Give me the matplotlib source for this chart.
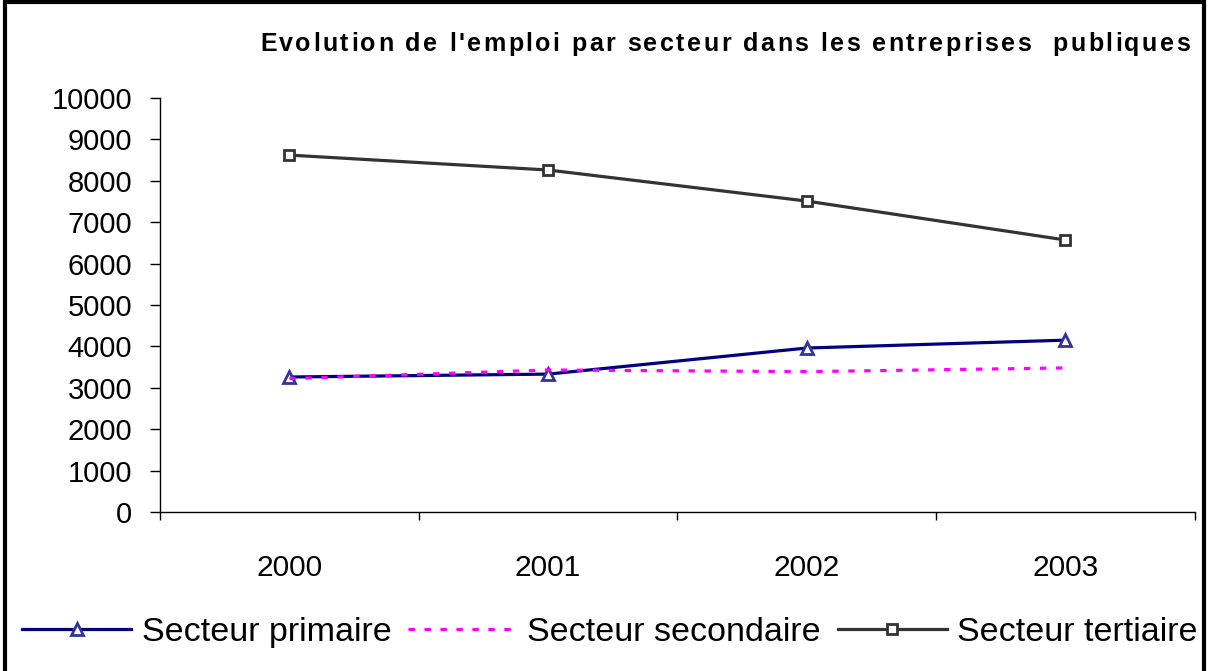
import matplotlib
matplotlib.use("Agg")
import matplotlib.pyplot as plt
from matplotlib.patches import Rectangle
from matplotlib.ticker import FixedLocator
from matplotlib.font_manager import FontProperties

years = ["2000", "2001", "2002", "2003"]
primaire = [3260, 3330, 3960, 4150]
secondaire = [3220, 3430, 3390, 3480]
tertiaire = [8620, 8260, 7510, 6570]
yticks = [0, 1000, 2000, 3000, 4000, 5000, 6000, 7000, 8000, 9000, 10000]
title = "Evolution de l'emploi par secteur dans les entreprises  publiques"

plt.rcParams['font.family'] = ['Liberation Sans', 'DejaVu Sans']

W, H = 1208, 671
fig = plt.figure(figsize=(W / 100, H / 100), dpi=100)
ax = fig.add_axes([0.1325, 0.237, 0.8565, 0.617])

x = list(range(len(years)))
l1, = ax.plot(x, primaire, color='#000080', lw=2.3, marker='^', ms=9,
              mfc='white', mec='#333399', mew=2, label='Secteur primaire')
l2, = ax.plot(x, secondaire, color='#FF00FF', lw=2.3, ls=(0, (2, 3)),
              label='Secteur secondaire')
l3, = ax.plot(x, tertiaire, color='#333333', lw=2.3, marker='s', ms=7.5,
              mfc='white', mec='#333333', mew=2, label='Secteur tertiaire')

ax.set_xlim(-0.5, len(years) - 0.5)
ax.set_ylim(0, 10000)
ax.set_yticks(yticks)
ax.set_yticklabels([str(v) for v in yticks], fontsize=21)
ax.xaxis.set_major_locator(FixedLocator([i - 0.5 for i in range(len(years) + 1)]))
ax.xaxis.set_minor_locator(FixedLocator(x))
ax.set_xticklabels([], minor=False)
ax.set_xticklabels(years, minor=True, fontsize=21.5)
ax.tick_params(axis='x', which='major', length=6, width=1, direction='out')
ax.tick_params(axis='x', which='minor', length=0, pad=30)
ax.tick_params(axis='y', length=7, width=1, direction='out', pad=13)
for s in ['top', 'right']:
    ax.spines[s].set_visible(False)
for s in ['left', 'bottom']:
    ax.spines[s].set_linewidth(1)

# letter-spaced bold title, spanning from x=260 to x=1190 px
renderer = fig.canvas.get_renderer()
fp = FontProperties(family=['Liberation Sans'], weight='bold', size=18)
bar_w = renderer.get_text_width_height_descent('|', fp, ismath=False)[0]
def tw(s):
    return renderer.get_text_width_height_descent(s + '|', fp, ismath=False)[0] - bar_w
x_left, x_right = 260.0, 1190.0
nat = tw(title)
sp = ((x_right - x_left) - nat) / (len(title) - 1)
for i, ch in enumerate(title):
    if ch == ' ':
        continue
    px = x_left + tw(title[:i]) + i * sp
    fig.text(px / W, 0.935, ch, ha='left', va='center', fontproperties=fp)

fig.legend(handles=[l1, l2, l3], loc='center', bbox_to_anchor=(0.505, 0.057),
           ncol=3, frameon=False, fontsize=24.5, handlelength=3.2,
           handletextpad=0.3, columnspacing=0.5, borderaxespad=0)

fig.patches.append(Rectangle((0.004, -0.01), 0.993, 1.007, transform=fig.transFigure,
                             fill=False, edgecolor='black', lw=3))

fig.savefig("out.png", dpi=100)
